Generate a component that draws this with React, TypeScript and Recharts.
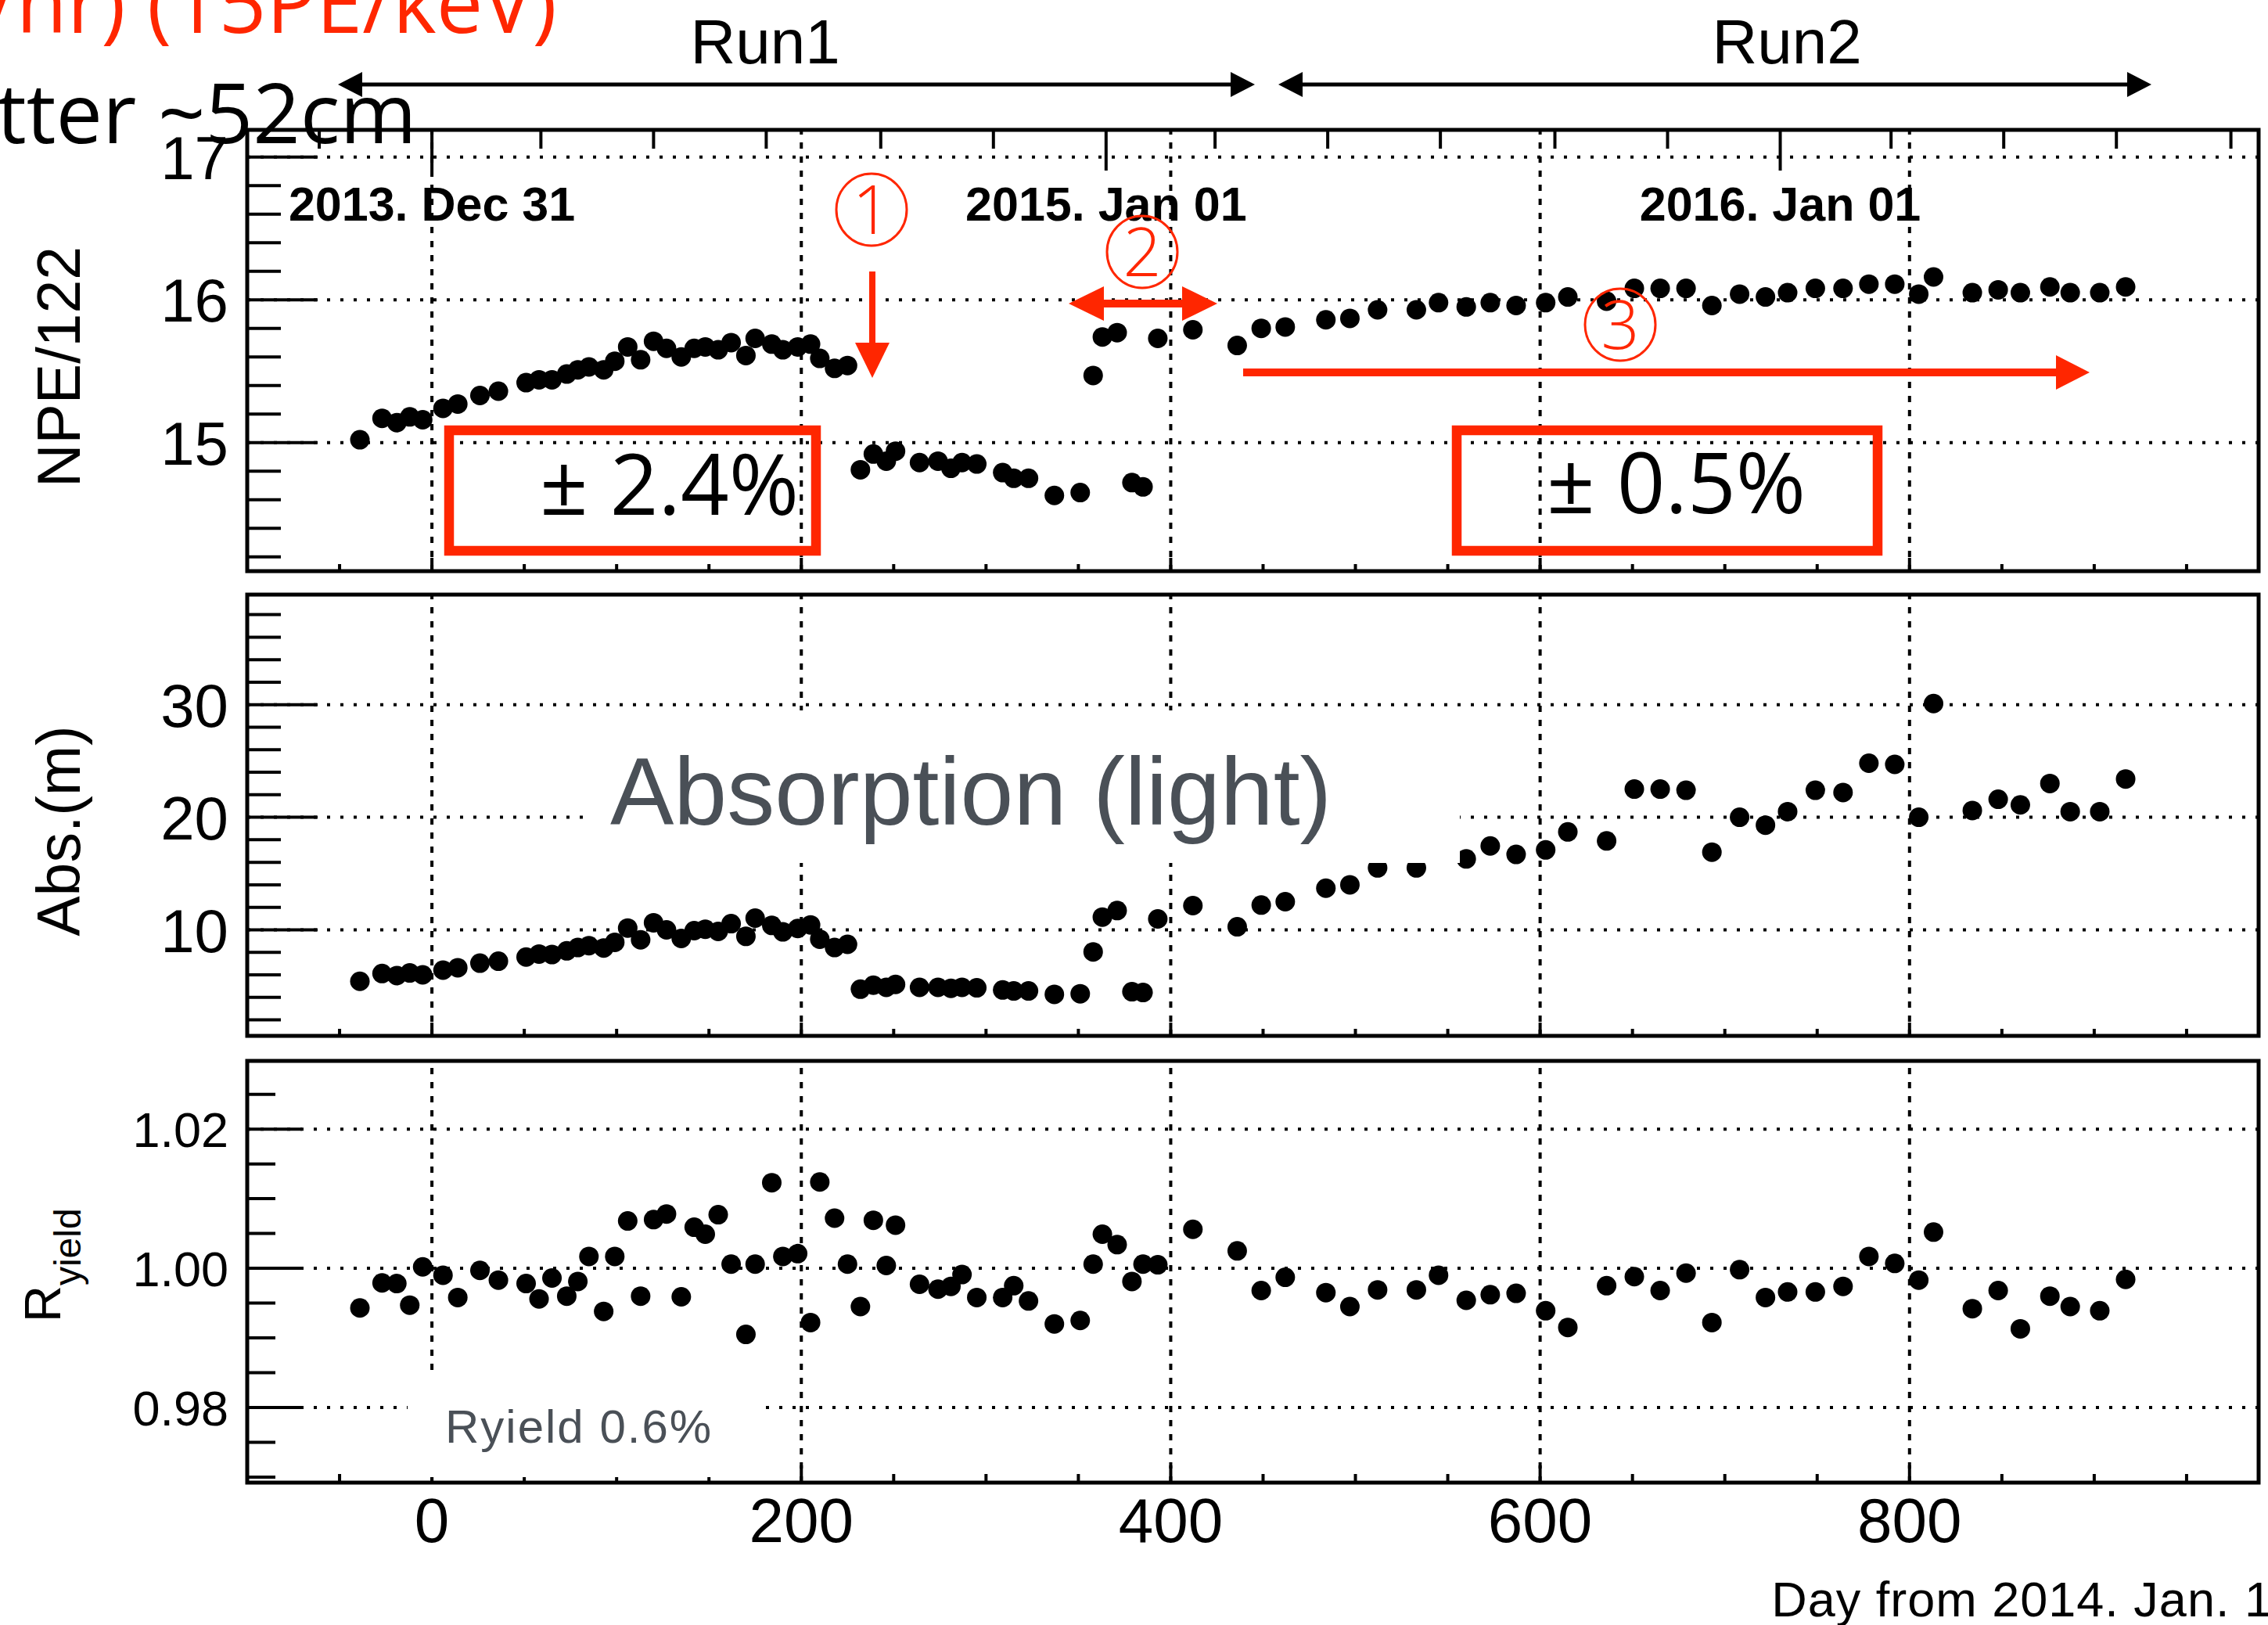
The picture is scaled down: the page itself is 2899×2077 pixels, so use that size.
import React from 'react';
import { ScatterChart, Scatter, XAxis, YAxis, ReferenceLine } from 'recharts';

// measurement days (day from 2014 Jan 1), shared by all three panels
const days = [
  -39, -27, -19, -12, -5, 6, 14, 26, 36, 51, 58, 65, 73, 79, 85, 93, 99, 106, 113, 120,
  127, 135, 142, 148, 155, 162, 170, 175, 184, 190, 198, 205, 210, 218, 225,
  232, 239, 246, 251, 264, 274, 281, 287, 295, 309, 315, 323, 337, 351,
  358, 363, 371, 379, 385, 393,
  412, 436, 449, 462, 484, 497, 512, 533, 545, 560, 573, 587, 603, 615, 636, 651, 665, 679,
  693, 708, 722, 734, 749, 764, 778, 792, 805, 813, 834, 848, 860, 876, 887, 903, 917,
];

const npe = [
  15.02, 15.17, 15.14, 15.18, 15.16, 15.24, 15.27, 15.33, 15.36, 15.42, 15.44, 15.44, 15.48, 15.51, 15.53, 15.51, 15.57, 15.67, 15.58, 15.71,
  15.66, 15.6, 15.66, 15.67, 15.65, 15.7, 15.61, 15.73, 15.69, 15.65, 15.67, 15.69, 15.59, 15.52, 15.54,
  14.81, 14.92, 14.87, 14.94, 14.86, 14.87, 14.82, 14.86, 14.85, 14.79, 14.75, 14.75, 14.63, 14.65,
  15.47, 15.74, 15.77, 14.72, 14.69, 15.73,
  15.79, 15.68, 15.8, 15.81, 15.86, 15.87, 15.93, 15.93, 15.98, 15.95, 15.98, 15.96, 15.98, 16.02, 15.99, 16.08, 16.08, 16.08,
  15.96, 16.04, 16.02, 16.05, 16.08, 16.08, 16.11, 16.11, 16.04, 16.16, 16.05, 16.07, 16.05, 16.09, 16.05, 16.05, 16.09,
];

const absLen = [
  5.43, 6.12, 5.93, 6.17, 6.0, 6.42, 6.63, 7.04, 7.21, 7.58, 7.85, 7.8, 8.13, 8.43, 8.59, 8.38, 8.89, 10.16, 9.12, 10.63,
  10.0, 9.24, 9.93, 10.05, 9.86, 10.55, 9.42, 11.04, 10.39, 9.82, 10.12, 10.44, 9.17, 8.43, 8.71,
  4.73, 5.08, 4.89, 5.15, 4.89, 4.89, 4.8, 4.89, 4.85, 4.66, 4.57, 4.57, 4.27, 4.32,
  8.04, 11.13, 11.71, 4.5, 4.43, 10.97,
  12.15, 10.27, 12.2, 12.5, 13.7, 14.0, 15.5, 15.5, 17.5, 16.3, 17.45, 16.7, 17.1, 18.7, 17.9, 22.5, 22.5, 22.4,
  16.9, 20.0, 19.3, 20.5, 22.4, 22.2, 24.8, 24.7, 20.0, 30.1, 20.6, 21.6, 21.1, 23.0, 20.5, 20.5, 23.4,
];

const ryield = [
  0.9943, 0.9979, 0.9978, 0.9947, 1.0002, 0.999, 0.9958, 0.9997, 0.9983, 0.9978, 0.9956, 0.9986, 0.996, 0.9981, 1.0017, 0.9938, 1.0017, 1.0068, 0.996, 1.007,
  1.0078, 0.9959, 1.0059, 1.0049, 1.0077, 1.0006, 0.9905, 1.0006, 1.0123, 1.0017, 1.0021, 0.9922, 1.0124, 1.0072, 1.0006,
  0.9945, 1.0069, 1.0004, 1.0062, 0.9977, 0.997, 0.9974, 0.9991, 0.9958, 0.9958, 0.9975, 0.9953, 0.992, 0.9925,
  1.0006, 1.0049, 1.0034, 0.9981, 1.0006, 1.0005,
  1.0056, 1.0025, 0.9968, 0.9987, 0.9965, 0.9945, 0.9969, 0.9969, 0.999, 0.9954, 0.9962, 0.9964, 0.9939, 0.9915, 0.9975, 0.9988, 0.9968, 0.9993,
  0.9922, 0.9998, 0.9958, 0.9966, 0.9966, 0.9974, 1.0017, 1.0007, 0.9983, 1.0052, 0.9942, 0.9968, 0.9913, 0.996, 0.9945, 0.9939, 0.9984,
];

const xTicks = [-50, 0, 50, 100, 150, 200, 250, 300, 350, 400, 450, 500, 550, 600, 650, 700, 750, 800, 850, 900, 950];
const xLabels = [0, 200, 400, 600, 800];
// first day of every second month, long ticks at new year
const monthTicks = [-61, 0, 59, 120, 181, 243, 304, 365, 424, 485, 546, 608, 669, 730, 790, 851, 912, 974];
const yearTicks = [0, 365, 730];
const yearLabels = ['2013. Dec 31', '2015. Jan 01', '2016. Jan 01'];

const npeTicks = [14.2, 14.4, 14.6, 14.8, 15, 15.2, 15.4, 15.6, 15.8, 16, 16.2, 16.4, 16.6, 16.8, 17];
const npeLabels = [15, 16, 17];
const absTicks = [2, 4, 6, 8, 10, 12, 14, 16, 18, 20, 22, 24, 26, 28, 30, 32, 34, 36, 38];
const absLabels = [10, 20, 30];
const ryTicks = [0.97, 0.975, 0.98, 0.985, 0.99, 0.995, 1, 1.005, 1.01, 1.015, 1.02, 1.025];
const ryLabels = [0.98, 1.0, 1.02];

const W = 2899;
const H = 2077;
const LEFT = 316;
const RIGHT = 2887;
const RED = '#ff2600';
const GRAY = '#4a5057';
const SANS = '"Liberation Sans", Arial, Helvetica, sans-serif';
const MYRIAD = '"Open Sans", "Liberation Sans", sans-serif';

const rows = days.map((d, i) => ({ day: d, npe: npe[i], abs: absLen[i], ry: ryield[i] }));

const isIn = (list: number[], v: number) => list.some((l) => Math.abs(l - v) < 1e-9);

const Dot = (p: any) => <circle cx={p.cx} cy={p.cy} r={12.5} fill="#000" />;

interface PanelProps {
  dataKey: string;
  domain: [number, number];
  ticks: number[];
  labels: number[];
  digits: number;
  top: number;
  bottom: number;
  majorLen: number;
  minorLen: number;
  labelSize: number;
  xMajor: number;
  xMinor: number;
  showXLabels?: boolean;
  showMonths?: boolean;
}

const Panel = (props: PanelProps) => {
  const { dataKey, domain, ticks, labels, digits, top, bottom, majorLen, minorLen, labelSize, xMajor, xMinor } = props;

  const yTick = (p: any) => {
    const v = p.payload.value;
    const major = isIn(labels, v);
    return (
      <g>
        <line x1={p.x} x2={p.x + (major ? majorLen : minorLen)} y1={p.y} y2={p.y} stroke="#000" strokeWidth={4} />
        {major && (
          <text x={p.x - 24} y={p.y + labelSize * 0.36} textAnchor="end" fontSize={labelSize} fontFamily={SANS} fill="#000">
            {v.toFixed(digits)}
          </text>
        )}
      </g>
    );
  };

  const xTick = (p: any) => {
    const v = p.payload.value;
    const major = isIn(xLabels, v);
    return (
      <g>
        <line x1={p.x} x2={p.x} y1={p.y} y2={p.y - (major ? xMajor : xMinor)} stroke="#000" strokeWidth={4} />
        {props.showXLabels && major && (
          <text x={p.x} y={p.y + 76} textAnchor="middle" fontSize={80} fontFamily={SANS} fill="#000">
            {v}
          </text>
        )}
      </g>
    );
  };

  const monthTick = (p: any) => {
    const v = p.payload.value;
    const yi = yearTicks.indexOf(v);
    return (
      <g>
        <line x1={p.x} x2={p.x} y1={p.y} y2={p.y + (yi >= 0 ? 52 : 24)} stroke="#000" strokeWidth={4} />
        {yi >= 0 && (
          <text x={p.x} y={p.y + 116} textAnchor="middle" fontSize={61} fontWeight="bold" fontFamily={SANS} fill="#000">
            {yearLabels[yi]}
          </text>
        )}
      </g>
    );
  };

  // axes are 1px thick (a zero-size axis is not drawn), margins compensate for it
  const topAxis = props.showMonths ? 1 : 0;

  return (
    <ScatterChart
      width={W}
      height={H}
      margin={{ top: top - topAxis, bottom: H - bottom - 1, left: LEFT - 1, right: W - RIGHT }}
      style={{ position: 'absolute', left: 0, top: 0 }}
    >
      <XAxis
        dataKey="day"
        type="number"
        domain={[-100, 989]}
        allowDataOverflow
        ticks={xTicks}
        interval={0}
        height={1}
        tickSize={0}
        tickMargin={0}
        axisLine={false}
        tickLine={false}
        tick={xTick}
      />
      {props.showMonths && (
        <XAxis
          xAxisId="top"
          orientation="top"
          dataKey="day"
          type="number"
          domain={[-100, 989]}
          allowDataOverflow
          ticks={monthTicks}
          interval={0}
          height={1}
          tickSize={0}
          tickMargin={0}
          axisLine={false}
          tickLine={false}
          tick={monthTick}
        />
      )}
      <YAxis
        dataKey={dataKey}
        type="number"
        domain={domain}
        allowDataOverflow
        ticks={ticks}
        interval={0}
        width={1}
        tickSize={0}
        tickMargin={0}
        axisLine={false}
        tickLine={false}
        tick={yTick}
      />
      {labels.map((v) => (
        <ReferenceLine key={'h' + v} y={v} stroke="#000" strokeWidth={4} strokeDasharray="4 13" />
      ))}
      {xLabels.map((v) => (
        <ReferenceLine key={'v' + v} x={v} stroke="#000" strokeWidth={4} strokeDasharray="8 10" />
      ))}
      <Scatter data={rows} dataKey={dataKey} fill="#000" shape={Dot} isAnimationActive={false} />
    </ScatterChart>
  );
};

const RunArrow = ({ x1, x2, y }: { x1: number; x2: number; y: number }) => (
  <g>
    <line x1={x1 + 25} x2={x2 - 25} y1={y} y2={y} stroke="#000" strokeWidth={5} />
    <polygon points={`${x1},${y} ${x1 + 31},${y - 16} ${x1 + 31},${y + 16}`} fill="#000" />
    <polygon points={`${x2},${y} ${x2 - 31},${y - 16} ${x2 - 31},${y + 16}`} fill="#000" />
  </g>
);

const Circled = ({ cx, cy, n }: { cx: number; cy: number; n: string }) => (
  <g>
    <ellipse cx={cx} cy={cy} rx={45} ry={46} fill="none" stroke={RED} strokeWidth={3} />
    <text x={cx} y={cy + 31} textAnchor="middle" fontSize={86} fontWeight={300} fontFamily={MYRIAD} fill={RED}>
      {n}
    </text>
  </g>
);

const App = () => {
  const panels = [
    { top: 166, bottom: 730 },
    { top: 760, bottom: 1324 },
    { top: 1356, bottom: 1895 },
  ];
  return (
    <div style={{ position: 'absolute', left: 0, top: 0, width: W, height: H, background: '#fff', overflow: 'hidden' }}>
      <Panel
        dataKey="npe" domain={[14.1, 17.19]} ticks={npeTicks} labels={npeLabels} digits={0}
        top={panels[0].top} bottom={panels[0].bottom} majorLen={90} minorLen={43} labelSize={78}
        xMajor={17} xMinor={9} showMonths
      />
      <Panel
        dataKey="abs" domain={[0.58, 39.78]} ticks={absTicks} labels={absLabels} digits={0}
        top={panels[1].top} bottom={panels[1].bottom} majorLen={90} minorLen={43} labelSize={78}
        xMajor={17} xMinor={9}
      />
      <Panel
        dataKey="ry" domain={[0.9692, 1.0298]} ticks={ryTicks} labels={ryLabels} digits={2}
        top={panels[2].top} bottom={panels[2].bottom} majorLen={70} minorLen={36} labelSize={63}
        xMajor={22} xMinor={11} showXLabels
      />

      <svg width={W} height={H} style={{ position: 'absolute', left: 0, top: 0 }}>
        {panels.map((p, i) => (
          <rect key={i} x={LEFT} y={p.top} width={RIGHT - LEFT} height={p.bottom - p.top} fill="none" stroke="#000" strokeWidth={5} />
        ))}

        <text x={-18} y={42} fontSize={106} fontFamily={MYRIAD} fill={RED}>/hr) (15PE/keV)</text>
        <text x={-4} y={183} fontSize={106} fontFamily={MYRIAD} fill="#000">tter ~52cm</text>

        <text x={978} y={81} textAnchor="middle" fontSize={80} fontFamily={SANS} fill="#000">Run1</text>
        <text x={2284} y={81} textAnchor="middle" fontSize={80} fontFamily={SANS} fill="#000">Run2</text>
        <RunArrow x1={432} x2={1604} y={108} />
        <RunArrow x1={1634} x2={2750} y={108} />

        {/* annotations in the NPE panel */}
        <Circled cx={1114} cy={268} n="1" />
        <Circled cx={1460} cy={322} n="2" />
        <Circled cx={2071} cy={415} n="3" />

        <line x1={1115} x2={1115} y1={347} y2={442} stroke={RED} strokeWidth={8} />
        <polygon points="1093,438 1137,438 1115,483" fill={RED} />

        <line x1={1405} x2={1518} y1={388} y2={388} stroke={RED} strokeWidth={10} />
        <polygon points="1366,388 1411,366 1411,410" fill={RED} />
        <polygon points="1556,388 1511,366 1511,410" fill={RED} />

        <line x1={1589} x2={2632} y1={476} y2={476} stroke={RED} strokeWidth={10} />
        <polygon points="2671,476 2628,454 2628,498" fill={RED} />

        <rect x={574} y={550} width={469} height={154} fill="none" stroke={RED} strokeWidth={12.5} />
        <text x={690} y={658} fontSize={108} fontFamily={MYRIAD} fill="#000">± 2.4%</text>
        <rect x={1862} y={550} width={538} height={154} fill="none" stroke={RED} strokeWidth={12.5} />
        <text x={1977} y={656} fontSize={108} fontFamily={MYRIAD} fill="#000">± 0.5%</text>

        {/* labels with white background inside the lower panels */}
        <rect x={751} y={908} width={1115} height={195} fill="#fff" />
        <text x={780} y={1054} fontSize={122} fontFamily={SANS} fill={GRAY}>Absorption (light)</text>
        <rect x={521} y={1752} width={450} height={136} fill="#fff" />
        <text x={569} y={1844} fontSize={60} letterSpacing={2} fontFamily={SANS} fill={GRAY}>Ryield 0.6%</text>

        {/* axis titles */}
        <text transform="translate(102,469) rotate(-90)" textAnchor="middle" fontSize={77} fontFamily={SANS} fill="#000">NPE/122</text>
        <text transform="translate(102,1062) rotate(-90)" textAnchor="middle" fontSize={77} fontFamily={SANS} fill="#000">Abs.(m)</text>
        <text transform="translate(77,1690) rotate(-90)" fontFamily={SANS} fill="#000">
          <tspan fontSize={65}>R</tspan>
          <tspan fontSize={48} dy={26}>yield</tspan>
        </text>
        <text x={2905} y={2066} textAnchor="end" fontSize={63} letterSpacing={1} fontFamily={SANS} fill="#000">Day from 2014. Jan. 1</text>
      </svg>
    </div>
  );
};

export default App;
